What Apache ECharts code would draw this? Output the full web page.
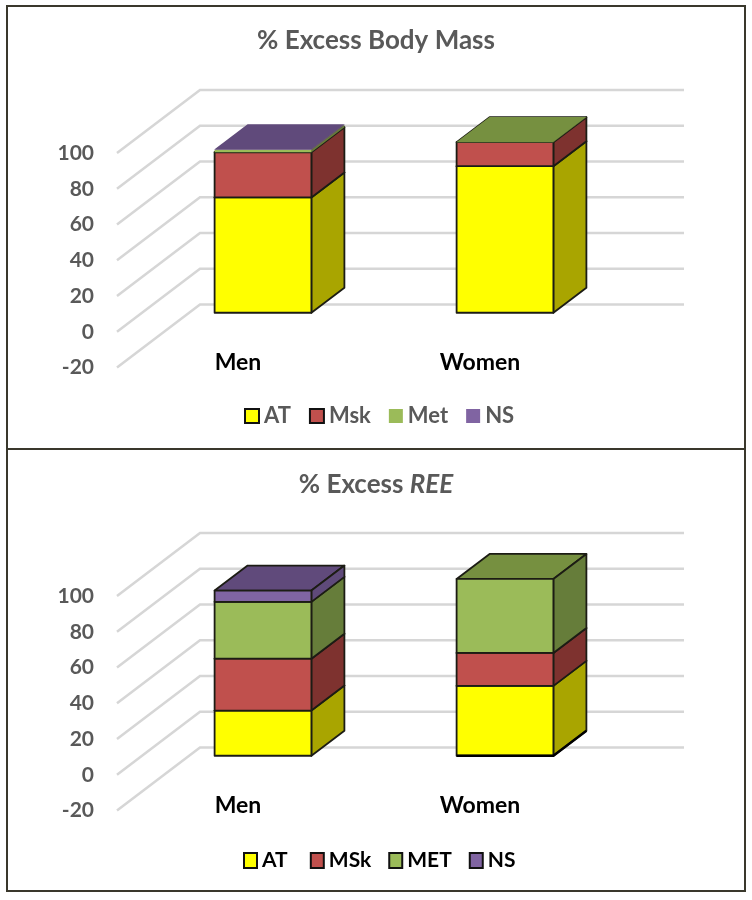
<!DOCTYPE html>
<html>
<head>
<meta charset="utf-8">
<style>html,body{margin:0;padding:0;background:#fff}#chart{width:752px;height:900px}</style>
<script src="https://cdn.jsdelivr.net/npm/echarts@6/dist/echarts.min.js"></script>
</head>
<body>
<div id="chart"></div>
<script>
const categories = ['Men', 'Women'];
const valueMin = -20, valueMax = 100, valueStep = 20;
const gridValues = [-20, 0, 20, 40, 60, 80, 100];

const massNames = ['AT', 'Msk', 'Met', 'NS'];
const massAT  = [64.5, 82];
const massMsk = [25.3, 13.4];
const massMet = [1.3, 0.1];
const massNS  = [0.3, 0];

const reeNames = ['AT', 'MSk', 'MET', 'NS'];
const reeAT  = [25.3, 39.1];
const reeMSk = [29, 18.4];
const reeMET = [31.8, 41.4];
const reeNS  = [6.3, 0];

const FONT = 'Lato, Carlito, sans-serif';
const GREY = '#595959';
const EDGE = '#1c1c14';
const WALL = [83, 63];   // depth of the chart floor
const BAR_OFFSET = [25, 19]; // front of the bar behind the front plane
const BAR_DEPTH = [33, 25];
const palette = [
  {front: '#FFFF00', side: '#A9A500', top: '#CCCC00'},
  {front: '#C0504D', side: '#7E322F', top: '#8A3836'},
  {front: '#9BBB59', side: '#667D3A', top: '#769040'},
  {front: '#8064A2', side: '#5F4A7A', top: '#604A7B'}
];

function gridSeries(idx) {
  return {
    type: 'custom', coordinateSystem: 'cartesian2d', xAxisIndex: idx, yAxisIndex: idx,
    silent: true, clip: false, z: 1,
    encode: {y: 0},
    data: gridValues.map(v => [v]),
    renderItem(params, api) {
      const y = api.coord([0, api.value(0)])[1];
      const cs = params.coordSys;
      return {
        type: 'polyline',
        shape: {points: [[cs.x, y], [cs.x + WALL[0], y - WALL[1]], [cs.x + cs.width + WALL[0], y - WALL[1]]]},
        style: {stroke: '#D6D6D6', lineWidth: 2.5, fill: null}
      };
    }
  };
}

function barSeries(idx, name, colorIdx, starts, values, bordered, thickBaseCat) {
  const c = palette[colorIdx];
  return {
    type: 'custom', name, coordinateSystem: 'cartesian2d', xAxisIndex: idx, yAxisIndex: idx,
    clip: false, z: 2 + colorIdx, silent: true,
    itemStyle: {color: c.front},
    encode: {x: 0, y: [1, 2]},
    data: categories.map((_, i) => [i, starts[i], starts[i] + values[i], values[i]]),
    renderItem(params, api) {
      if (!api.value(3)) return null;
      const low = api.coord([api.value(0), api.value(1)]);
      const high = api.coord([api.value(0), api.value(2)]);
      const w = api.size([1, 0])[0] * 0.4;
      const x0 = low[0] + BAR_OFFSET[0] - w / 2, x1 = x0 + w;
      const yb = low[1] - BAR_OFFSET[1], yt = high[1] - BAR_OFFSET[1];
      const dx = BAR_DEPTH[0], dy = BAR_DEPTH[1];
      const edge = bordered ? {stroke: EDGE, lineWidth: 1.8, lineJoin: 'round'} : {};
      const children = [
        {type: 'polygon', shape: {points: [[x0, yt], [x1, yt], [x1 + dx, yt - dy], [x0 + dx, yt - dy]]}, style: {fill: c.top, ...edge}},
        {type: 'polygon', shape: {points: [[x1, yb], [x1 + dx, yb - dy], [x1 + dx, yt - dy], [x1, yt]]}, style: {fill: c.side, ...edge}},
        {type: 'rect', shape: {x: x0, y: yt, width: w, height: yb - yt}, style: {fill: c.front, ...edge}}
      ];
      if (thickBaseCat === api.value(0)) {
        children.push({type: 'polyline', shape: {points: [[x0, yb], [x1, yb], [x1 + dx, yb - dy]]},
          style: {stroke: '#000', lineWidth: 2.5, fill: null}});
      }
      return {type: 'group', children};
    }
  };
}

function stacked(idx, names, arrays, borderedFlags, thickBaseCat) {
  const run = categories.map(() => 0);
  return arrays.map((values, k) => {
    const s = barSeries(idx, names[k], k, run.slice(), values, borderedFlags[k], k === 0 ? thickBaseCat : undefined);
    values.forEach((v, i) => { run[i] += v; });
    return s;
  });
}

const xAxisBase = {
  type: 'category', data: categories,
  axisLine: {show: false}, axisTick: {show: false}, splitLine: {show: false},
  axisLabel: {color: '#000', fontFamily: FONT, fontWeight: 'bold', fontSize: 23, margin: -16}
};
const yAxisBase = {
  type: 'value', min: valueMin, max: valueMax, interval: valueStep,
  axisLine: {show: false}, axisTick: {show: false}, splitLine: {show: false},
  axisLabel: {color: GREY, fontFamily: FONT, fontWeight: 'bold', fontSize: 21, margin: 23, padding: [0, 0, 4, 0]}
};
const swatch = {borderColor: '#111', borderWidth: 2};

const option = {
  animation: false,
  backgroundColor: '#fff',
  title: [
    {text: '% Excess Body Mass', left: 'center', top: 23,
      textStyle: {color: GREY, fontFamily: FONT, fontWeight: 'bold', fontSize: 26}},
    {text: '{a|% Excess }{b|REE}', left: 'center', top: 467,
      textStyle: {rich: {
        a: {color: GREY, fontFamily: FONT, fontWeight: 'bold', fontSize: 26},
        b: {color: GREY, fontFamily: FONT, fontWeight: 'bold', fontStyle: 'italic', fontSize: 26}
      }}}
  ],
  grid: [
    {left: 117, width: 484, top: 153, height: 214.5},
    {left: 117, width: 484, top: 596, height: 214.5}
  ],
  xAxis: [{...xAxisBase, gridIndex: 0}, {...xAxisBase, gridIndex: 1}],
  yAxis: [{...yAxisBase, gridIndex: 0}, {...yAxisBase, gridIndex: 1}],
  legend: [
    {left: 239, top: 400, icon: 'rect', itemWidth: 14, itemHeight: 14, itemGap: 18, selectedMode: false,
      textStyle: {color: GREY, fontFamily: FONT, fontWeight: 'bold', fontSize: 22},
      data: [{name: 'AT', itemStyle: swatch}, {name: 'Msk', itemStyle: swatch}, {name: 'Met'}, {name: 'NS'}]},
    {left: 238, top: 845, icon: 'rect', itemWidth: 13, itemHeight: 15, itemGap: 17, selectedMode: false,
      textStyle: {color: '#000', fontFamily: FONT, fontWeight: 'bold', fontSize: 21},
      data: [{name: 'AT ', itemStyle: swatch}, {name: 'MSk', itemStyle: swatch}, {name: 'MET', itemStyle: swatch}, {name: 'NS ', itemStyle: swatch}]}
  ],
  graphic: [
    {type: 'rect', silent: true, z: 100, shape: {x: 7, y: 6, width: 738, height: 443}, style: {fill: null, stroke: '#3a382c', lineWidth: 2}},
    {type: 'rect', silent: true, z: 100, shape: {x: 7, y: 449, width: 738, height: 442}, style: {fill: null, stroke: '#3a382c', lineWidth: 2}}
  ],
  series: [
    gridSeries(0),
    gridSeries(1),
    ...stacked(0, massNames, [massAT, massMsk, massMet, massNS], [true, true, false, false]),
    ...stacked(1, reeNames.map((n, i) => (i === 0 || i === 3) ? n + ' ' : n), [reeAT, reeMSk, reeMET, reeNS], [true, true, true, true], 1)
  ]
};

const chart = echarts.init(document.getElementById('chart'), null, {renderer: 'canvas', width: 752, height: 900});
chart.setOption(option);
</script>
</body>
</html>
